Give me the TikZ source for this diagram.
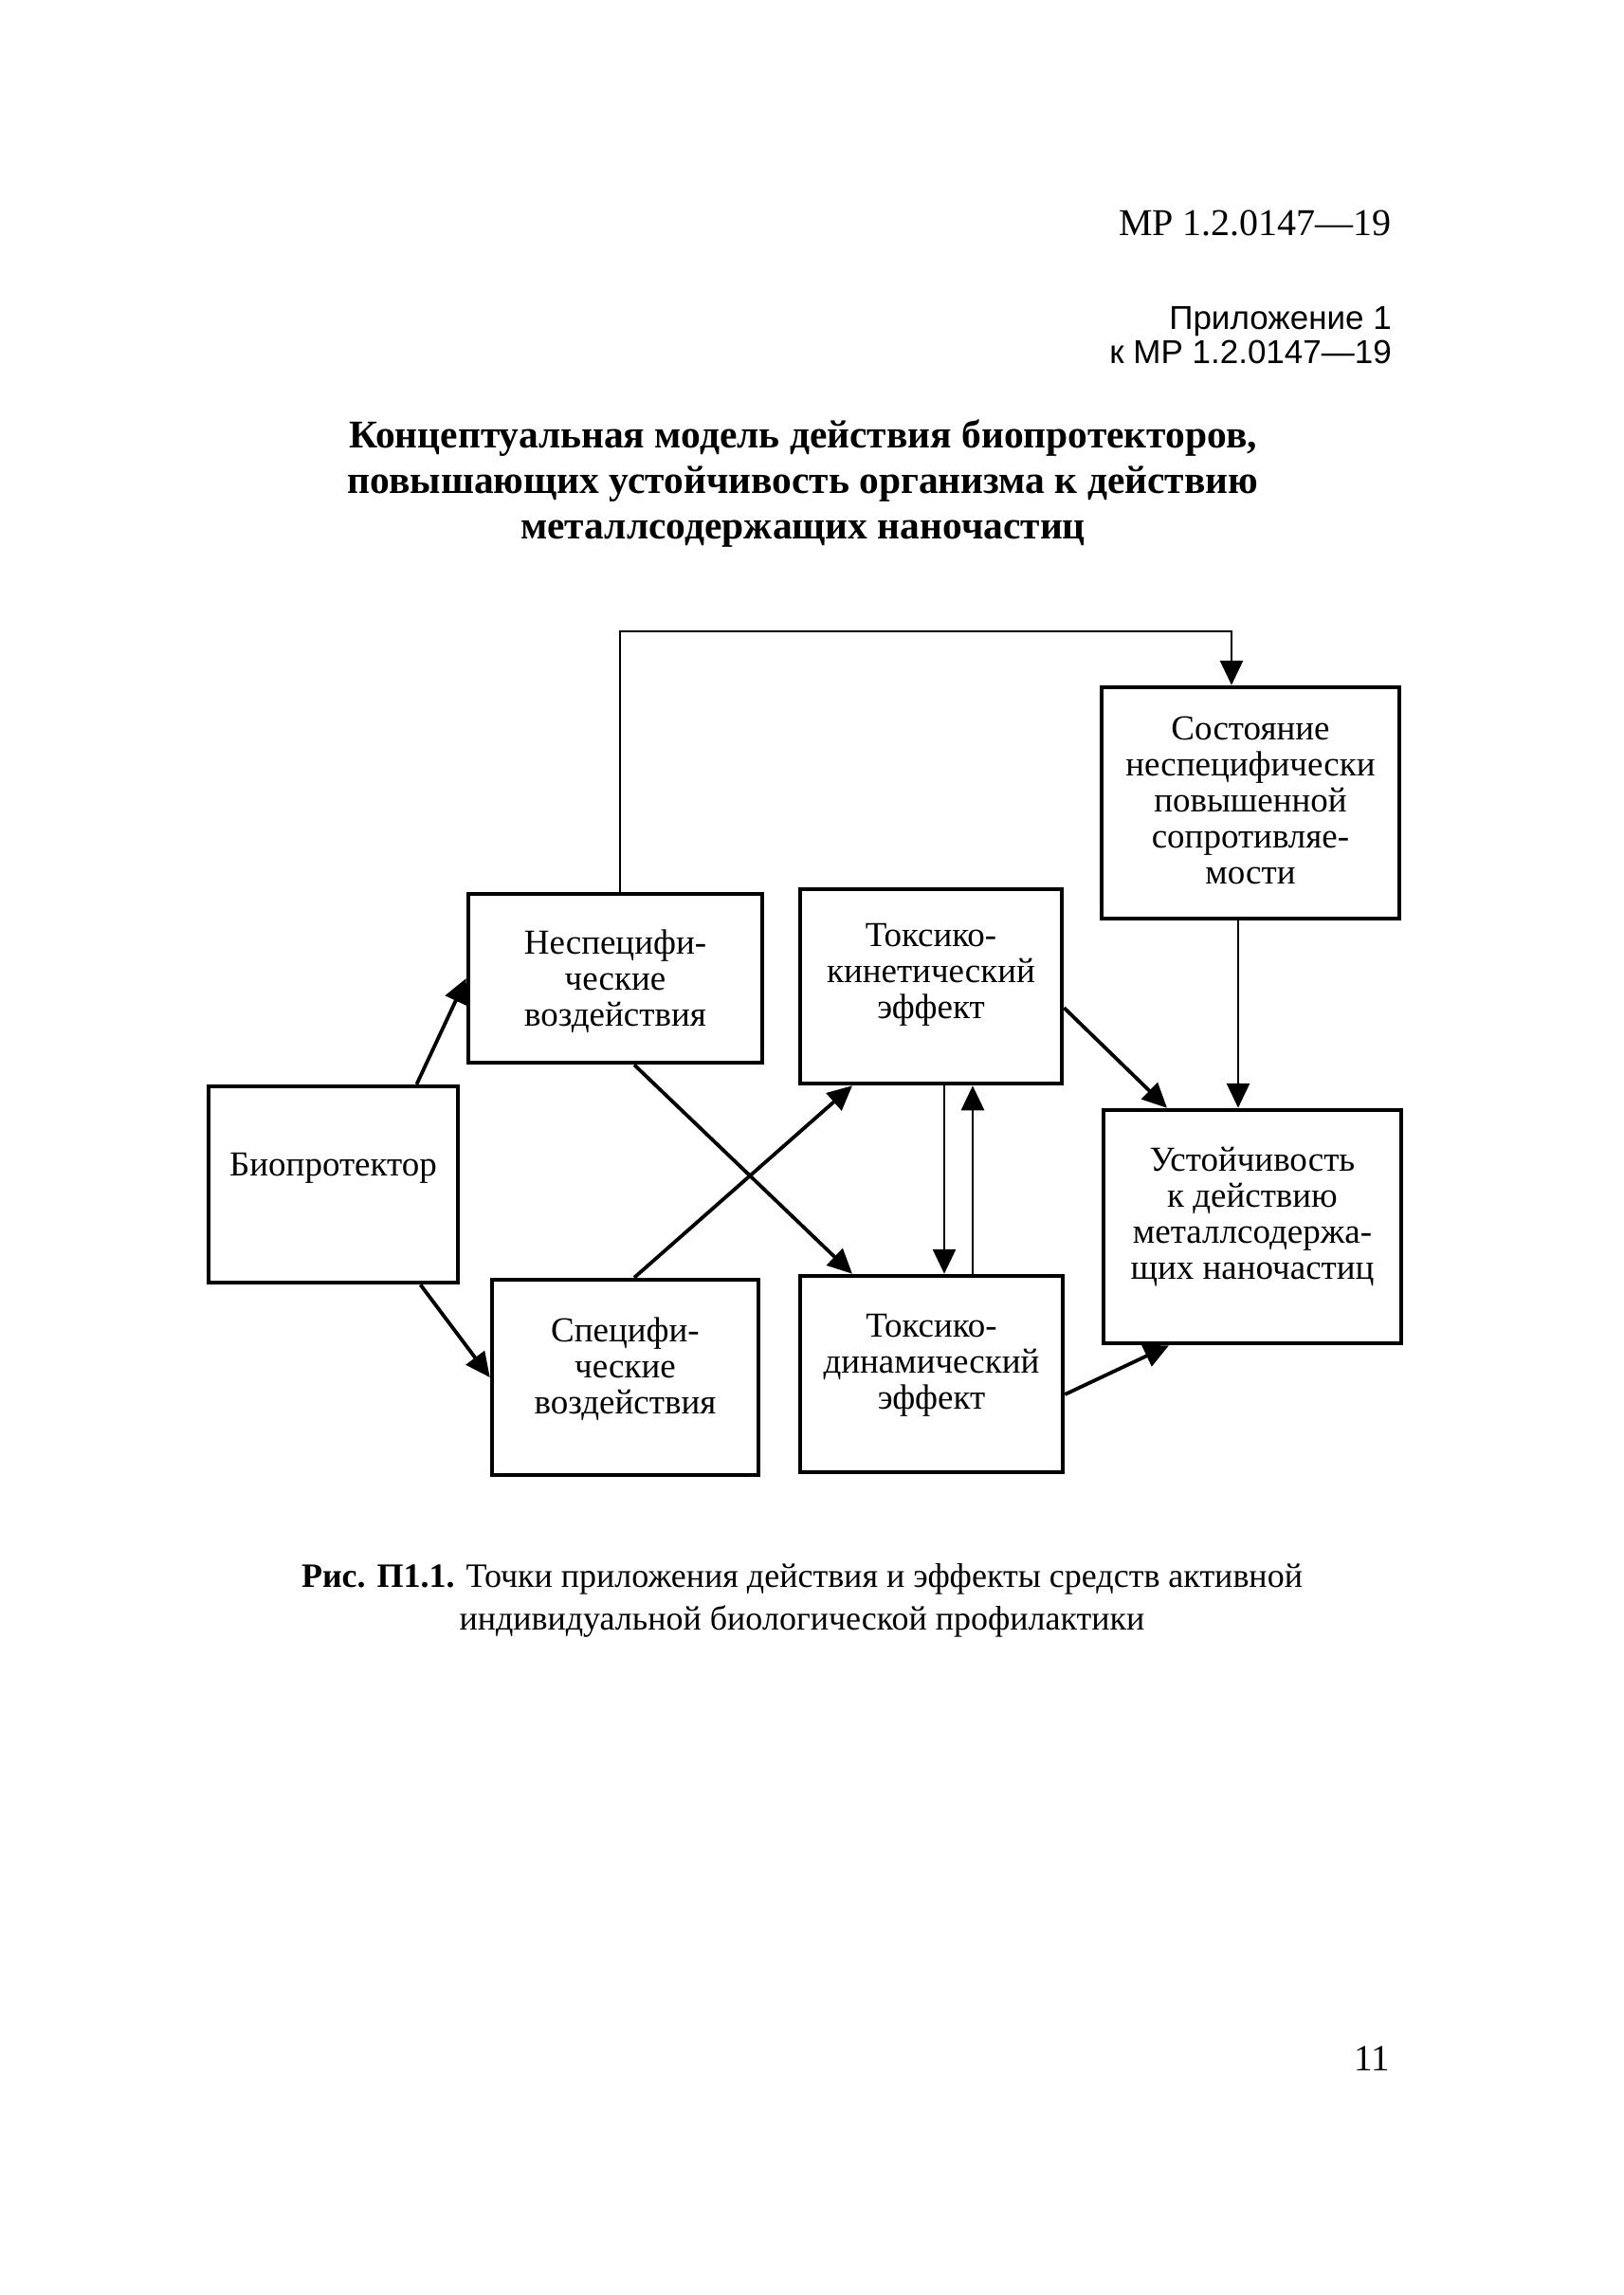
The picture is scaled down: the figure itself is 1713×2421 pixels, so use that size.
\documentclass[tikz,border=0pt]{standalone}
\usepackage{fontspec}
\setmainfont{Liberation Serif}
\newfontfamily\arialf{Liberation Sans}
\usetikzlibrary{arrows.meta}
\begin{document}
\begin{tikzpicture}[x=1pt,y=-1pt,
  box/.style={draw, rectangle, line width=4.5pt, inner sep=0pt},
  btext/.style={font=\fontsize{37}{38}\selectfont, align=center, inner sep=0pt},
  tip/.style={-{Triangle[length=26pt,width=24pt]}},
  arr/.style={line width=3.8pt, tip},
  arrthin/.style={line width=2.8pt, tip}]
\fill[white] (0,0) rectangle (1713,2421);
\useasboundingbox (0,0) rectangle (1713,2421);

% header
\node[anchor=base east, inner sep=0pt, font=\fontsize{40}{44}\selectfont] (hdr) at (1468,248) {МР 1.2.0147—19};
\node[anchor=base east, inner sep=0pt, font=\arialf\fontsize{35}{36}\selectfont] (app1) at (1468,347) {Приложение 1};
\node[anchor=base east, inner sep=0pt, font=\arialf\fontsize{35}{36}\selectfont] (app2) at (1468,383) {к МР 1.2.0147—19};

% title
\node[align=center, inner sep=0pt, font=\bfseries\fontsize{41.5}{48}\selectfont] (title) at (847,510)
  {Концептуальная модель действия биопротекторов,\\ повышающих устойчивость организма к действию\\ металлсодержащих наночастиц};

% boxes
\node[box, minimum width=263pt, minimum height=207pt] (bio) at (351.5,1249.5) {};
\node[box, minimum width=310pt, minimum height=178pt] (nonspec) at (649,1032) {};
\node[box, minimum width=281pt, minimum height=206pt] (spec) at (659.5,1453) {};
\node[box, minimum width=276pt, minimum height=205pt] (tk) at (982,1040.5) {};
\node[box, minimum width=277pt, minimum height=207pt] (td) at (982.5,1449.5) {};
\node[box, minimum width=314pt, minimum height=244pt] (state) at (1319,847) {};
\node[box, minimum width=314pt, minimum height=246pt] (res) at (1321,1294) {};

% box texts
\node[btext] (bio-t) at (351.5,1232) {Биопротектор};
\node[btext] (nonspec-t) at (649,1035) {Неспецифи-\\ческие\\воздействия};
\node[btext] (spec-t) at (659.5,1444) {Специфи-\\ческие\\воздействия};
\node[btext] (tk-t) at (982,1028) {Токсико-\\кинетический\\эффект};
\node[btext] (td-t) at (982.5,1440) {Токсико-\\динамический\\эффект};
\node[btext] (state-t) at (1319,844) {Состояние\\неспецифически\\повышенной\\сопротивляе-\\мости};
\node[btext] (res-t) at (1321,1284) {Устойчивость\\к действию\\металлсодержа-\\щих наночастиц};

% connectors
\coordinate (tl) at (654,666);
\coordinate (tr) at (1299,666);
\draw[arrthin] ([xshift=5pt]nonspec.north) -- (tl) -- (tr) -- ([xshift=-20pt]state.north);
\draw[arr] ([xshift=88pt]bio.north) -- (nonspec.west);
\draw[arr] ([xshift=92pt]bio.south) -- (spec.west);
\draw[arr] ([xshift=20pt]nonspec.south) -- ([xshift=-83.5pt]td.north);
\draw[arr] ([xshift=9.5pt]spec.north) -- ([xshift=-83pt]tk.south);
\draw[arrthin] ([xshift=14pt]tk.south) -- ([xshift=13.5pt]td.north);
\draw[arrthin] ([xshift=43.5pt]td.north) -- ([xshift=44pt]tk.south);
\draw[arr] ([yshift=-22.5pt]tk.east) -- ([xshift=-90pt]res.north);
\draw[arr] ([yshift=-21.5pt]td.east) -- ([xshift=-88pt]res.south);
\draw[arrthin] ([xshift=-13pt]state.south) -- ([xshift=-15pt]res.north);

% caption
\node[align=center, inner sep=0pt, font=\fontsize{36}{45}\selectfont] (cap) at (846,1688)
  {\textbf{Рис. П1.1.} Точки приложения действия и эффекты средств активной\\ индивидуальной биологической профилактики};

% page number
\node[anchor=base, inner sep=0pt, font=\fontsize{39}{40}\selectfont] (pg) at (1447,2184) {11};
\end{tikzpicture}
\end{document}
